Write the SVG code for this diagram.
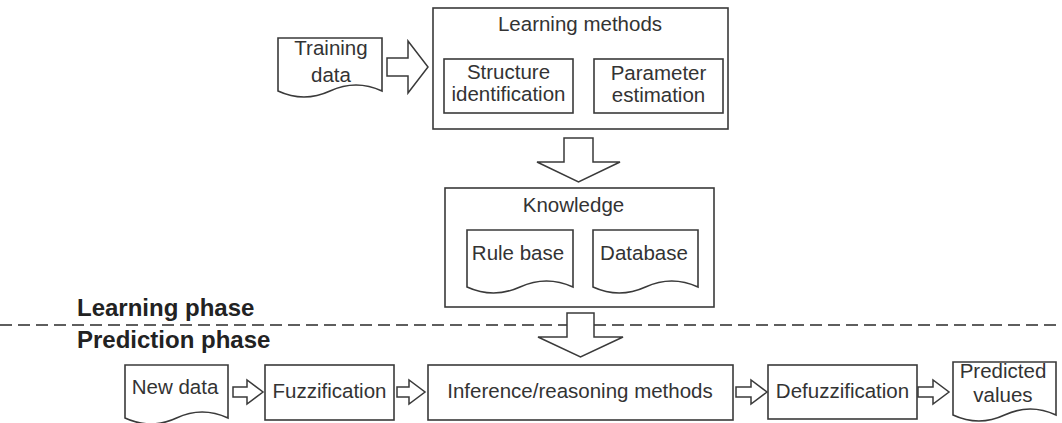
<svg xmlns="http://www.w3.org/2000/svg" width="1062" height="423" viewBox="0 0 1062 423">
<style>
  .bg { fill: #ffffff; }
  .box { fill: #ffffff; stroke: #3a3a3a; stroke-width: 1.6; }
  .arrow { fill: #ffffff; stroke: #3a3a3a; stroke-width: 1.5; stroke-linejoin: miter; }
  .t { font-family: "Liberation Sans", Arial, sans-serif; font-size: 20.5px; fill: #333333; text-anchor: middle; }
  .phase { font-family: "Liberation Sans", Arial, sans-serif; font-size: 24px; font-weight: bold; fill: #222222; }
  .dash { stroke: #2a2a2a; stroke-width: 1.6; stroke-dasharray: 12 6; fill: none; }
</style>
<rect class="bg" x="0" y="0" width="1062" height="423"/>

<g id="phase-divider">
  <line class="dash" x1="0" y1="325" x2="1062" y2="325"/>
  <text class="phase" x="77" y="316">Learning phase</text>
  <text class="phase" x="77" y="348">Prediction phase</text>
</g>

<g id="training-data">
  <path class="box" d="M278,38 H382 V91 Q356,79 330,91 T278,91 Z"/>
  <text class="t" x="331" y="55">Training</text>
  <text class="t" x="331" y="82">data</text>
</g>

<g id="learning-methods">
  <rect class="box" x="433" y="8" width="295" height="121"/>
  <text class="t" x="580" y="31">Learning methods</text>
</g>

<g id="structure-identification">
  <rect class="box" x="444" y="59" width="129" height="54"/>
  <text class="t" x="508.5" y="79">Structure</text>
  <text class="t" x="508.5" y="101">identification</text>
</g>

<g id="parameter-estimation">
  <rect class="box" x="594" y="59" width="129" height="54"/>
  <text class="t" x="658.5" y="80">Parameter</text>
  <text class="t" x="658.5" y="102">estimation</text>
</g>

<g id="knowledge">
  <rect class="box" x="445" y="188" width="269" height="119"/>
  <text class="t" x="573.5" y="212">Knowledge</text>
</g>

<g id="rule-base">
  <path class="box" d="M467,230 H573 V287 Q546.5,275 520,287 T467,287 Z"/>
  <text class="t" x="518" y="260">Rule base</text>
</g>

<g id="database">
  <path class="box" d="M593,230 H698 V287 Q671.75,275 645.5,287 T593,287 Z"/>
  <text class="t" x="644" y="260">Database</text>
</g>

<g id="new-data">
  <path class="box" d="M125,365 H228 V418 Q202,406 176.5,418 T125,418 Z"/>
  <text class="t" x="175" y="394">New data</text>
</g>

<g id="fuzzification">
  <rect class="box" x="265" y="365" width="129" height="55"/>
  <text class="t" x="329.5" y="398">Fuzzification</text>
</g>

<g id="inference">
  <rect class="box" x="428" y="365" width="305" height="55"/>
  <text class="t" x="580" y="398">Inference/reasoning methods</text>
</g>

<g id="defuzzification">
  <rect class="box" x="768" y="365" width="149" height="54"/>
  <text class="t" x="842.5" y="398">Defuzzification</text>
</g>

<g id="predicted-values">
  <path class="box" d="M953,362 H1056 V415 Q1030,403 1004.5,415 T953,415 Z"/>
  <text class="t" x="1003" y="378">Predicted</text>
  <text class="t" x="1003" y="402">values</text>
</g>

<g id="connectors">
  <path class="arrow" d="M387,58 H408 V41 L428,67 L408,93 V76 H387 Z"/>
  <path class="arrow" d="M564,138 H593 V162 H620 L578.5,182 L537,162 H564 Z"/>
  <path class="arrow" d="M567,313 H594 V337 H623 L580.5,357 L538,337 H567 Z"/>
  <path class="arrow" d="M233,387 H247 V380 L263,392 L247,404 V397 H233 Z"/>
  <path class="arrow" d="M397,387 H409 V380 L425,392 L409,404 V397 H397 Z"/>
  <path class="arrow" d="M736,387 H751 V380 L767,392 L751,404 V397 H736 Z"/>
  <path class="arrow" d="M918,387 H933 V380 L949,392 L933,404 V397 H918 Z"/>
</g>
</svg>
